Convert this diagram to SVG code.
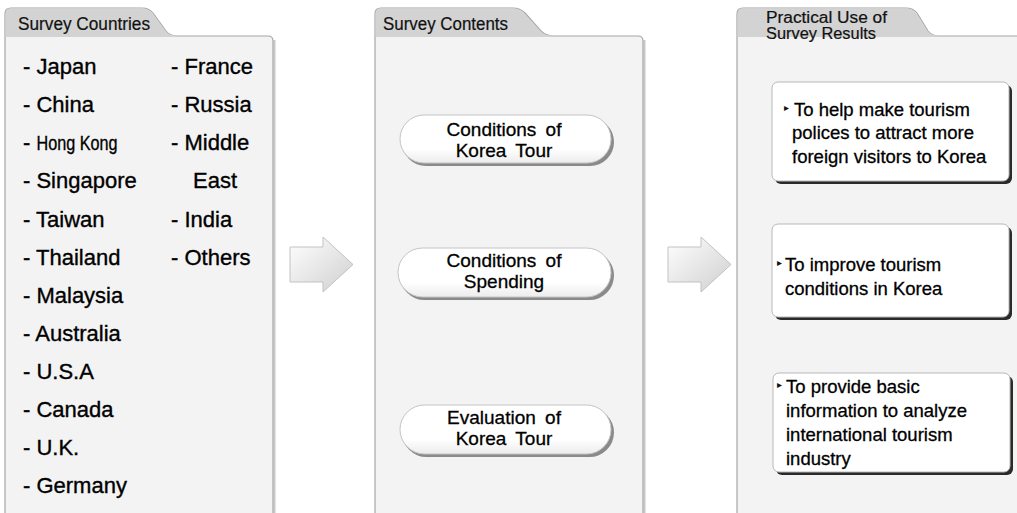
<svg xmlns="http://www.w3.org/2000/svg" width="1017" height="513" viewBox="0 0 1017 513">
<defs>
<linearGradient id="arrowG" x1="0" y1="0" x2="1" y2="1">
<stop offset="0" stop-color="#ffffff"/>
<stop offset="1" stop-color="#cfcfcf"/>
</linearGradient>
<linearGradient id="pillG" x1="0" y1="0" x2="0" y2="1">
<stop offset="0" stop-color="#ffffff"/>
<stop offset="0.7" stop-color="#ffffff"/>
<stop offset="1" stop-color="#ececec"/>
</linearGradient>
</defs>
<style>
.panel{fill:#f3f3f3;stroke:#a6a6a6;stroke-width:1.2}
.pshadow{fill:none;stroke:#c8c8c8;stroke-width:2}
.tab{fill:#d3d3d3}
.hdr{font-family:"Liberation Sans",Arial,sans-serif;font-size:18px;fill:#111;stroke:#111;stroke-width:0.2}
.hdr2{font-family:"Liberation Sans",Arial,sans-serif;font-size:16px;fill:#111;stroke:#111;stroke-width:0.2}
.item{font-family:"Liberation Sans",Arial,sans-serif;font-size:22px;fill:#000;stroke:#000;stroke-width:0.35}
.pill{fill:url(#pillG);stroke:#c4c4c4;stroke-width:1}
.pillsh{fill:#8a8a8a}
.pt{font-family:"Liberation Sans",Arial,sans-serif;font-size:19px;fill:#000;stroke:#000;stroke-width:0.3;text-anchor:middle;word-spacing:4px}
.box{fill:#ffffff;stroke:#b8b8b8;stroke-width:1}
.boxsh{fill:#2a2a2a}
.bt{font-family:"Liberation Sans",Arial,sans-serif;font-size:18.5px;fill:#000;stroke:#000;stroke-width:0.3}
.bul{font-family:"DejaVu Sans",sans-serif;font-size:10px;fill:#111;stroke:none}
.arrow{fill:url(#arrowG);stroke:#c2c2c2;stroke-width:1}
</style>
<rect width="1017" height="513" fill="#ffffff"/>

<g id="panel-countries">
<path class="pshadow" d="M274.5,40 V513"/>
<path class="panel" d="M5,514 V14 Q5,8 11,8 H142 Q149,8 153,13 L166,31 Q170,36 177,36 H268 Q273,36 273,41 V514 Z"/>
<path class="tab" d="M5.6,37 V14 Q5.6,8.6 11,8.6 H142 Q148.5,8.6 152.5,13.5 L165.5,31 Q169,35.5 176,35.5 L176,37 Z"/>
<text class="hdr" x="18" y="30" textLength="132" lengthAdjust="spacingAndGlyphs">Survey Countries</text>
<text class="item" x="23" y="74">- Japan</text>
<text class="item" x="23" y="112">- China</text>
<text class="item" x="23" y="150">- <tspan font-size="21" textLength="81" lengthAdjust="spacingAndGlyphs">Hong Kong</tspan></text>
<text class="item" x="23" y="188">- Singapore</text>
<text class="item" x="23" y="227">- Taiwan</text>
<text class="item" x="23" y="265">- Thailand</text>
<text class="item" x="23" y="303">- Malaysia</text>
<text class="item" x="23" y="341">- Australia</text>
<text class="item" x="23" y="379">- U.S.A</text>
<text class="item" x="23" y="417">- Canada</text>
<text class="item" x="23" y="455">- U.K.</text>
<text class="item" x="23" y="493">- Germany</text>
<text class="item" x="171" y="74">- France</text>
<text class="item" x="171" y="112">- Russia</text>
<text class="item" x="171" y="150">- Middle</text>
<text class="item" x="193" y="188">East</text>
<text class="item" x="171" y="227">- India</text>
<text class="item" x="171" y="265">- Others</text>
</g>

<g id="panel-contents">
<path class="pshadow" d="M644.5,40 V513"/>
<path class="panel" d="M375,514 V14 Q375,8 381,8 H513 Q520,8 525,13 L541,31 Q546,36 553,36 H638 Q643,36 643,41 V514 Z"/>
<path class="tab" d="M375.6,37 V14 Q375.6,8.6 381,8.6 H513 Q519.5,8.6 524.5,13.5 L540.5,31 Q545,35.5 552,35.5 L552,37 Z"/>
<text class="hdr" x="383" y="30" textLength="125" lengthAdjust="spacingAndGlyphs">Survey Contents</text>
</g>

<g id="panel-use">
<path class="panel" d="M737,514 V14 Q737,8 743,8 H906 Q913,8 917,13 L928,31 Q932,36 939,36 H1030 V514 Z"/>
<path class="tab" d="M737.6,37 V14 Q737.6,8.6 743,8.6 H906 Q912.5,8.6 916.5,13.5 L927.5,31 Q931,35.5 938,35.5 L938,37 Z"/>
<text class="hdr2" x="766" y="23" textLength="121" lengthAdjust="spacingAndGlyphs">Practical Use of</text>
<text class="hdr2" x="766" y="39" textLength="110" lengthAdjust="spacingAndGlyphs">Survey Results</text>
</g>

<g id="connectors">
<path class="arrow" d="M290,247 H323 V237 L353,264.5 L323,292 V282 H290 Z"/>
<path class="arrow" d="M668,247 H701 V237 L731,264.5 L701,292 V282 H668 Z"/>
</g>

<g id="node-korea-tour">
<rect class="pillsh" x="402" y="118" width="212" height="48" rx="24"/>
<rect class="pill" x="400" y="115" width="211" height="48" rx="24"/>
<text class="pt" x="504" y="136">Conditions of</text>
<text class="pt" x="504" y="157">Korea Tour</text>
</g>

<g id="node-spending">
<rect class="pillsh" x="400" y="251" width="214" height="49" rx="24.5"/>
<rect class="pill" x="398" y="248" width="213" height="49" rx="24.5"/>
<text class="pt" x="504" y="267">Conditions of</text>
<text class="pt" x="504" y="288">Spending</text>
</g>

<g id="node-evaluation">
<rect class="pillsh" x="402" y="408" width="212" height="49" rx="24.5"/>
<rect class="pill" x="400" y="405" width="211" height="49" rx="24.5"/>
<text class="pt" x="504" y="424">Evaluation of</text>
<text class="pt" x="504" y="445">Korea Tour</text>
</g>

<g id="node-policies">
<rect class="boxsh" x="775" y="85" width="237" height="99" rx="6"/>
<rect class="box" x="772" y="82" width="237" height="99" rx="6"/>
<text class="bt" x="784" y="116"><tspan class="bul" dy="-5">▸</tspan><tspan x="794" dy="5">To help make tourism</tspan></text>
<text class="bt" x="792" y="139">polices to attract more</text>
<text class="bt" x="792" y="163">foreign visitors to Korea</text>
</g>

<g id="node-improve">
<rect class="boxsh" x="775" y="227" width="237" height="93" rx="6"/>
<rect class="box" x="772" y="224" width="237" height="93" rx="6"/>
<text class="bt" x="777" y="271"><tspan class="bul" dy="-5">▸</tspan><tspan x="785" dy="5">To improve tourism</tspan></text>
<text class="bt" x="785" y="295">conditions in Korea</text>
</g>

<g id="node-basic">
<rect class="boxsh" x="776" y="376" width="237" height="99" rx="6"/>
<rect class="box" x="773" y="373" width="237" height="99" rx="6"/>
<text class="bt" x="777" y="393"><tspan class="bul" dy="-5">▸</tspan><tspan x="786" dy="5">To provide basic</tspan></text>
<text class="bt" x="786" y="417">information to analyze</text>
<text class="bt" x="786" y="441">international tourism</text>
<text class="bt" x="786" y="465">industry</text>
</g>
</svg>
